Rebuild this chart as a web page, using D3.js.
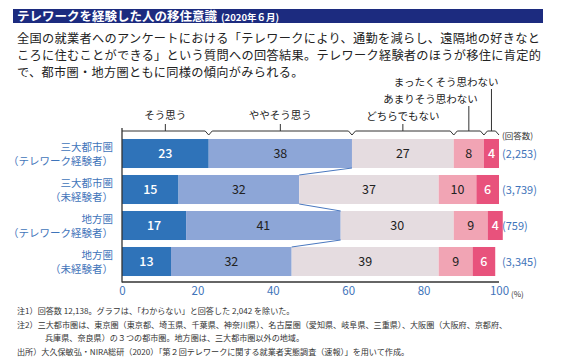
<!DOCTYPE html>
<html><head><meta charset="utf-8">
<script src="https://cdn.jsdelivr.net/npm/d3@7"></script>
<style>
body{margin:0;background:#fff;}
svg{display:block;font-family:"Noto Sans CJK JP","Noto Sans",sans-serif;}
</style></head>
<body>
<svg id="chart" width="565" height="360"></svg>
<script>
const categories = [
  ["三大都市圏", "（テレワーク経験者）"],
  ["三大都市圏", "（未経験者）"],
  ["地方圏", "（テレワーク経験者）"],
  ["地方圏", "（未経験者）"]
];
const seriesNames = ["そう思う", "ややそう思う", "どちらでもない", "あまりそう思わない", "まったくそう思わない"];
const soOmou      = [23, 15, 17, 13];
const yayaSoOmou  = [38, 32, 41, 32];
const dochiraDemo = [27, 37, 30, 39];
const amari       = [8, 10, 9, 9];
const mattaku     = [4, 6, 4, 6];
const counts = ["(2,253)", "(3,739)", "(759)", "(3,345)"];
const xTicks = [0, 20, 40, 60, 80, 100];
const colors = ["#2f73b9", "#8da6d7", "#e5dce0", "#f1a4b4", "#e8527c"];
const valueColors = ["#fff", "#222", "#222", "#222", "#fff"];
const series = [soOmou, yayaSoOmou, dochiraDemo, amari, mattaku];

const svg = d3.select("#chart");
const blue = "#3f74ba";

// Title bar
svg.append("rect").attr("x", 13).attr("y", 9).attr("width", 530).attr("height", 14).attr("fill", "#1c2b7f");
const title = svg.append("text").attr("x", 17).attr("y", 20.5).attr("fill", "#fff").attr("font-weight", "bold");
title.append("tspan").attr("font-size", 12.5).text("テレワークを経験した人の移住意識");
title.append("tspan").attr("font-size", 9.5).attr("dx", 4).text("(2020年６月)");

// Body text
const body = [
  "全国の就業者へのアンケートにおける「テレワークにより、通勤を減らし、遠隔地の好きなと",
  "ころに住むことができる」という質問への回答結果。テレワーク経験者のほうが移住に肯定的",
  "で、都市圏・地方圏ともに同様の傾向がみられる。"
];
svg.selectAll("text.body").data(body).join("text").attr("class", "body")
  .attr("x", 17).attr("y", (d, i) => 43 + i * 17.2)
  .attr("font-size", 12.2).attr("letter-spacing", 0.3).attr("fill", "#222").text(d => d);

// Scales
const x = d3.scaleLinear().domain([0, 100]).range([122, 499]);
const y = d3.scaleBand().domain(d3.range(categories.length)).range([135.5, 279.5]).paddingInner(0.194).paddingOuter(0.097);
const bw = y.bandwidth();

// Stack
const rows = categories.map((c, i) => {
  let acc = 0;
  return series.map((s, k) => { const seg = {k, i, x0: acc, x1: acc + s[i], v: s[i]}; acc += s[i]; return seg; });
});

const g = svg.append("g");
rows.forEach(r => {
  g.selectAll(null).data(r).join("rect")
    .attr("x", d => x(d.x0)).attr("y", d => y(d.i)).attr("width", d => x(d.x1) - x(d.x0)).attr("height", bw)
    .attr("fill", d => colors[d.k]);
  g.selectAll(null).data(r).join("text")
    .attr("x", d => (x(d.x0) + x(d.x1)) / 2).attr("y", d => y(d.i) + bw / 2 + 4.5)
    .attr("text-anchor", "middle").attr("font-size", 12.5).attr("fill", d => valueColors[d.k])
    .attr("font-weight", d => (d.k === 0 || d.k === 4) ? 500 : "normal")
    .text(d => d.v);
});

// connecting lines between positive totals
const pos = rows.map(r => r[1].x1);
for (let i = 0; i < pos.length - 1; i++) {
  svg.append("line").attr("x1", x(pos[i])).attr("y1", y(i) + bw).attr("x2", x(pos[i + 1])).attr("y2", y(i + 1))
    .attr("stroke", "#4a78bf").attr("stroke-width", 1);
}

// Axes lines
svg.append("line").attr("x1", x(0)).attr("x2", x(0)).attr("y1", 128).attr("y2", 282.5).attr("stroke", "#333").attr("stroke-width", 1.3);
svg.append("line").attr("x1", x(0)).attr("x2", x(100)).attr("y1", 282).attr("y2", 282).attr("stroke", "#333").attr("stroke-width", 1.3);

const xAxis = svg.append("g").attr("transform", "translate(0,282)")
  .call(d3.axisBottom(x).tickValues(xTicks).tickSize(0).tickPadding(5));
xAxis.select(".domain").remove();
xAxis.selectAll("text").attr("font-size", 11.5).attr("fill", blue).attr("font-family", "'Noto Sans CJK JP',sans-serif");
svg.append("text").attr("x", 511).attr("y", 296.5).attr("font-size", 8).attr("fill", "#333").text("(%)");

// Row labels
categories.forEach((c, i) => {
  const t = svg.append("text").attr("text-anchor", "end").attr("font-size", 10.5).attr("fill", blue);
  t.append("tspan").attr("x", 113).attr("y", y(i) + bw / 2 - 2.5).text(c[0]);
  t.append("tspan").attr("x", 113).attr("y", y(i) + bw / 2 + 11).text(c[1]);
  svg.append("text").attr("x", 502).attr("y", y(i) + bw / 2 + 4.5).attr("font-size", 11).attr("fill", blue).text(counts[i]);
});
svg.append("text").attr("x", 502).attr("y", 139).attr("font-size", 8.5).attr("fill", "#333").text("(回答数)");

// Brackets & legend labels on first bar
const by = 131;
const labelPos = [
  {ty: 119, anchor: "middle", dx: 0, top: 124},
  {ty: 119, anchor: "middle", dx: 0, top: 124},
  {ty: 120, anchor: "middle", dx: 0, top: 124},
  {ty: 103, anchor: "end", dx: 9, top: 106},
  {ty: 86, anchor: "end", dx: 7, top: 89}
];
rows[0].forEach((d, k) => {
  const a = x(d.x0), b = x(d.x1), m = (a + b) / 2;
  const left = k === 0 ? `M${a},${by} ` : `M${a},${by + 4} L${a + 3.5},${by} `;
  svg.append("path").attr("d", left + `L${b - 3.5},${by} L${b},${by + 4}`)
    .attr("fill", "none").attr("stroke", "#333").attr("stroke-width", 1);
  const lp = labelPos[k];
  svg.append("line").attr("x1", m).attr("x2", m).attr("y1", lp.top).attr("y2", by).attr("stroke", "#333").attr("stroke-width", 1);
  svg.append("text").attr("x", m + lp.dx).attr("y", lp.ty).attr("text-anchor", lp.anchor)
    .attr("font-size", 10.5).attr("fill", "#222").text(seriesNames[k]);
});

// Notes
const notes = [
  {x: 17, t: "注1）回答数 12,138。グラフは、「わからない」と回答した 2,042 を除いた。"},
  {x: 17, t: "注2）三大都市圏は、東京圏（東京都、埼玉県、千葉県、神奈川県）、名古屋圏（愛知県、岐阜県、三重県）、大阪圏（大阪府、京都府、"},
  {x: 45, t: "兵庫県、奈良県）の３つの都市圏。地方圏は、三大都市圏以外の地域。"},
  {x: 17, t: "出所）大久保敏弘・NIRA総研（2020）「第２回テレワークに関する就業者実態調査（速報）」を用いて作成。"}
];
svg.selectAll("text.note").data(notes).join("text").attr("class", "note")
  .attr("x", d => d.x).attr("y", (d, i) => 314 + i * 13.5)
  .attr("font-size", 8.1).attr("fill", "#333").text(d => d.t);
</script>
</body></html>
